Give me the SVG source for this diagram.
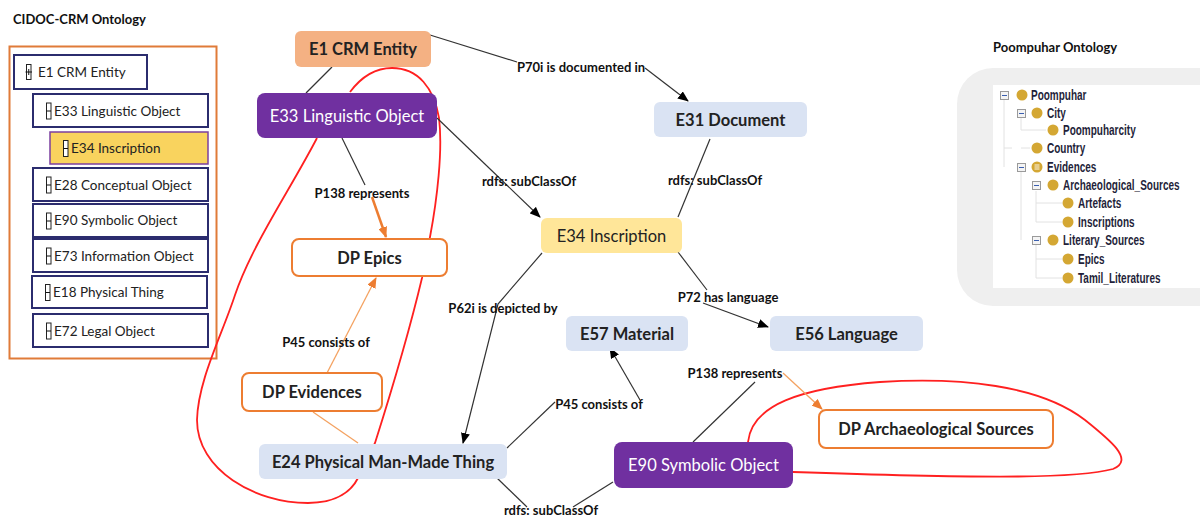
<svg xmlns="http://www.w3.org/2000/svg" width="1200" height="517" viewBox="0 0 1200 517">
<defs>
<marker id="ab" markerWidth="11" markerHeight="9" refX="10" refY="4.5" orient="auto" markerUnits="userSpaceOnUse"><path d="M0,0 L11,4.5 L0,9 z" fill="#000"/></marker>
<marker id="ao" markerWidth="11" markerHeight="9" refX="10" refY="4.5" orient="auto" markerUnits="userSpaceOnUse"><path d="M0,0 L11,4.5 L0,9 z" fill="#ed7d31"/></marker>
</defs>
<style>
text{font-family:Lato,"Liberation Sans",sans-serif;}
.title{font-size:13px;font-weight:bold;fill:#111;}
.lb{fill:#fff;stroke:#2b2c6e;stroke-width:2;}
.lt{font-size:13.5px;fill:#222;}
.ic{fill:#fff;stroke:#222;stroke-width:1;}
.nb{fill:#dae3f3;}
.np{fill:#7030a0;}
.nd{fill:#fff;stroke:#ed7d31;stroke-width:2;}
.t16{font-size:16.5px;fill:#222;text-anchor:middle;}
.tb{font-weight:bold;}
.tw{fill:#fff;}
.lab{font-size:13px;font-weight:bold;fill:#111;text-anchor:middle;}
.c{fill:none;stroke:#333;stroke-width:1.2;}
.co{fill:none;stroke:#f4a261;stroke-width:1.3;}
.red{fill:none;stroke:#ff2020;stroke-width:1.8;}
.tr{font-family:"Liberation Sans",sans-serif;font-size:14.5px;font-weight:bold;fill:#1f1f3a;}
.dot{fill:#d4a733;}
.mb{fill:#f4f4f4;stroke:#9a9a9a;stroke-width:1;}
.tl{stroke:#e2e2e2;stroke-width:1;fill:none;}
</style>

<!-- Left panel -->
<g id="cidoc-panel">
<text class="title" x="13" y="24">CIDOC-CRM Ontology</text>
<rect x="9.5" y="46.5" width="207" height="312" fill="#fff" stroke="#e07b39" stroke-width="2"/>
<g id="tree-e1"><rect class="lb" x="14" y="55" width="133" height="34"/><rect class="ic" x="26.5" y="64.5" width="4.5" height="15"/><path d="M25.5,72 H32 M28.75,69 V75" stroke="#111" stroke-width="1"/><text class="lt" x="38" y="77">E1 CRM Entity</text></g>
<g id="tree-e33"><rect class="lb" x="33" y="94" width="175" height="33"/><rect class="ic" x="46.5" y="103" width="4.5" height="16"/><path d="M46.5,111 H51" stroke="#111"/><text class="lt" x="54" y="115.5">E33 Linguistic Object</text></g>
<g id="tree-e34"><rect x="50" y="132" width="158" height="32" fill="#f9d35e" stroke="#7b3fa0" stroke-width="1.5"/><rect class="ic" x="63.5" y="140.5" width="4.5" height="16" fill="#f9d35e"/><path d="M63.5,148.5 H68" stroke="#111"/><text class="lt" x="71" y="153">E34 Inscription</text></g>
<g id="tree-e28"><rect class="lb" x="33" y="168" width="175" height="33"/><rect class="ic" x="46.5" y="177" width="4.5" height="16"/><path d="M46.5,185 H51" stroke="#111"/><text class="lt" x="54" y="189.5">E28 Conceptual Object</text></g>
<g id="tree-e90"><rect class="lb" x="33" y="204" width="175" height="33"/><rect class="ic" x="46.5" y="213" width="4.5" height="16"/><path d="M46.5,221 H51" stroke="#111"/><text class="lt" x="54" y="225">E90 Symbolic Object</text></g>
<g id="tree-e73"><rect class="lb" x="33" y="239" width="175" height="33"/><rect class="ic" x="46.5" y="248" width="4.5" height="16"/><path d="M46.5,256 H51" stroke="#111"/><text class="lt" x="54" y="260.5">E73 Information Object</text></g>
<g id="tree-e18"><rect class="lb" x="32" y="276" width="175" height="32"/><rect class="ic" x="45.5" y="284.5" width="4.5" height="16"/><path d="M45.5,292.5 H50" stroke="#111"/><text class="lt" x="53" y="297">E18 Physical Thing</text></g>
<g id="tree-e72"><rect class="lb" x="33" y="314" width="175" height="33"/><rect class="ic" x="46.5" y="323" width="4.5" height="16"/><path d="M46.5,331 H51" stroke="#111"/><text class="lt" x="54" y="335.5">E72 Legal Object</text></g>
</g>

<!-- Right panel -->
<g id="poompuhar-panel">
<text class="title" x="993" y="52">Poompuhar Ontology</text>
<rect x="957" y="68" width="280" height="238" rx="36" fill="#efefef"/>
<rect x="993" y="85" width="215" height="203" fill="#fff"/>
<path class="tl" d="M1004,99 V167 M1021,117 V130 H1046 M1021,148 H1030 M1021,171 V240 M1036,191 V222 H1062 M1036,203 H1062 M1036,244 V278 H1062 M1036,259 H1062 M1004,148 H1012"/>
<g id="pt-poompuhar"><rect class="mb" x="1000.5" y="91.5" width="8" height="8"/><path d="M1002,95.5 H1007" stroke="#3a5fb0"/><circle class="dot" cx="1022" cy="95" r="5.5"/><text class="tr" transform="translate(1031,100) scale(0.69,1)">Poompuhar</text></g>
<g id="pt-city"><rect class="mb" x="1017.5" y="109.5" width="8" height="8"/><path d="M1019,113.5 H1024" stroke="#3a5fb0"/><circle class="dot" cx="1037" cy="113" r="5.5"/><text class="tr" transform="translate(1047,118) scale(0.69,1)">City</text></g>
<g id="pt-poompuharcity"><circle class="dot" cx="1053" cy="130" r="5.5"/><text class="tr" transform="translate(1063,135) scale(0.69,1)">Poompuharcity</text></g>
<g id="pt-country"><circle class="dot" cx="1037" cy="148" r="5.5"/><text class="tr" transform="translate(1047,153) scale(0.69,1)">Country</text></g>
<g id="pt-evidences"><rect class="mb" x="1017.5" y="163.5" width="8" height="8"/><path d="M1019,167.5 H1024" stroke="#3a5fb0"/><circle class="dot" cx="1037" cy="167" r="5.5"/><path d="M1034.5,165 H1039.5 M1034.5,167 H1039.5 M1034.5,169 H1039.5" stroke="#fff" stroke-width="0.9"/><text class="tr" transform="translate(1047,172) scale(0.69,1)">Evidences</text></g>
<g id="pt-archaeological"><rect class="mb" x="1032.5" y="181.5" width="8" height="8"/><path d="M1034,185.5 H1039" stroke="#3a5fb0"/><circle class="dot" cx="1053" cy="185" r="5.5"/><text class="tr" transform="translate(1063,190) scale(0.69,1)">Archaeological_Sources</text></g>
<g id="pt-artefacts"><circle class="dot" cx="1068" cy="203" r="5.5"/><text class="tr" transform="translate(1078,208) scale(0.69,1)">Artefacts</text></g>
<g id="pt-inscriptions"><circle class="dot" cx="1068" cy="222" r="5.5"/><text class="tr" transform="translate(1078,227) scale(0.69,1)">Inscriptions</text></g>
<g id="pt-literary"><rect class="mb" x="1032.5" y="236.5" width="8" height="8"/><path d="M1034,240.5 H1039" stroke="#3a5fb0"/><circle class="dot" cx="1053" cy="240" r="5.5"/><text class="tr" transform="translate(1063,245) scale(0.69,1)">Literary_Sources</text></g>
<g id="pt-epics"><circle class="dot" cx="1068" cy="259" r="5.5"/><text class="tr" transform="translate(1078,264) scale(0.69,1)">Epics</text></g>
<g id="pt-tamil"><circle class="dot" cx="1068" cy="278" r="5.5"/><text class="tr" transform="translate(1078,283) scale(0.69,1)">Tamil_Literatures</text></g>
</g>

<!-- Red highlight loops (behind nodes) -->
<g id="highlights">
<path class="red" d="M317,138 C290,190 252,245 235,295 C222,335 198,380 197,420 C197,470 255,503 308,503 C338,503 352,490 358,478 L375,443 C395,380 412,320 422,278 L430,237 C437,200 443,150 439,118 C434,88 418,68 392,68 C373,68 359,80 350,92"/>
<path class="red" d="M748,442 C752,405 800,388 880,382 C960,377 1040,385 1085,420 C1110,440 1135,460 1113,469 C1080,478 1000,479 793,472"/>
</g>

<!-- Connectors -->
<g id="connectors">
<path class="c" d="M430,35 L517,62"/>
<path class="c" d="M645,68 L688,101" marker-end="url(#ab)"/>
<path class="c" d="M332,67 L306,93"/>
<path class="c" d="M437,118 L540,217" marker-end="url(#ab)"/>
<path class="c" d="M342,138 L365,185"/>
<path fill="none" stroke="#ed7d31" stroke-width="2.5" d="M372,197 L386,237" marker-end="url(#ao)"/>
<path class="c" d="M678,217 L710,139"/>
<path class="c" d="M542,253 L498,304 L463,443" marker-end="url(#ab)"/>
<path class="c" d="M678,252 L707,290"/>
<path class="c" d="M703,303 L768,327" marker-end="url(#ab)"/>
<path class="c" d="M507,448 L555,402"/>
<path class="c" d="M640,400 L610,348" marker-end="url(#ab)"/>
<path class="c" d="M497,478 L527,507"/>
<path class="c" d="M573,507 L613,482"/>
<path class="c" d="M693,442 L755,382"/>
<path class="co" d="M783,373 L822,409" marker-end="url(#ao)"/>
<path class="co" d="M327,373 L376,278" marker-end="url(#ao)"/>
<path class="co" d="M313,412 L358,443"/>
</g>

<!-- Connector labels -->
<g id="labels">
<text class="lab" x="581" y="72">P70i is documented in</text>
<text class="lab" x="529" y="186">rdfs: subClassOf</text>
<text class="lab" x="362" y="198">P138 represents</text>
<text class="lab" x="715" y="185">rdfs: subClassOf</text>
<text class="lab" x="503" y="313">P62i is depicted by</text>
<text class="lab" x="728" y="302">P72 has language</text>
<text class="lab" x="599" y="409">P45 consists of</text>
<text class="lab" x="326" y="347">P45 consists of</text>
<text class="lab" x="735" y="378">P138 represents</text>
<text class="lab" x="551" y="515">rdfs: subClassOf</text>
</g>

<!-- Nodes -->
<g id="n-e1"><rect x="295" y="31" width="136" height="36" rx="6" fill="#f4b183"/><text class="t16 tb" x="363" y="55">E1 CRM Entity</text></g>
<g id="n-e33"><rect class="np" x="257" y="93" width="180" height="45" rx="8"/><text class="t16 tw" x="347" y="121.5">E33 Linguistic Object</text></g>
<g id="n-e31"><rect class="nb" x="654" y="102" width="153" height="35" rx="6"/><text class="t16 tb" x="730.5" y="125.5">E31 Document</text></g>
<g id="n-e34"><rect x="541" y="218" width="141" height="35" rx="6" fill="#ffe699"/><text class="t16" x="611.5" y="241.5">E34 Inscription</text></g>
<g id="n-dp-epics"><rect class="nd" x="292" y="239" width="155" height="37" rx="7"/><text class="t16 tb" x="369.5" y="263.5">DP Epics</text></g>
<g id="n-dp-evidences"><rect class="nd" x="242" y="373" width="140" height="38" rx="7"/><text class="t16 tb" x="312" y="398">DP Evidences</text></g>
<g id="n-e24"><rect class="nb" x="259" y="444" width="248" height="35" rx="6"/><text class="t16 tb" x="383" y="467.5">E24 Physical Man-Made Thing</text></g>
<g id="n-e57"><rect class="nb" x="566" y="316" width="122" height="35" rx="6"/><text class="t16 tb" x="627" y="339.5">E57 Material</text></g>
<g id="n-e56"><rect class="nb" x="770" y="316" width="153" height="35" rx="6"/><text class="t16 tb" x="846.5" y="339.5">E56 Language</text></g>
<g id="n-e90"><rect class="np" x="614" y="442" width="179" height="46" rx="8"/><text class="t16 tw" x="703.5" y="471">E90 Symbolic Object</text></g>
<g id="n-dp-arch"><rect class="nd" x="819" y="410" width="234" height="38" rx="7"/><text class="t16 tb" x="936" y="435">DP Archaeological Sources</text></g>
</svg>
